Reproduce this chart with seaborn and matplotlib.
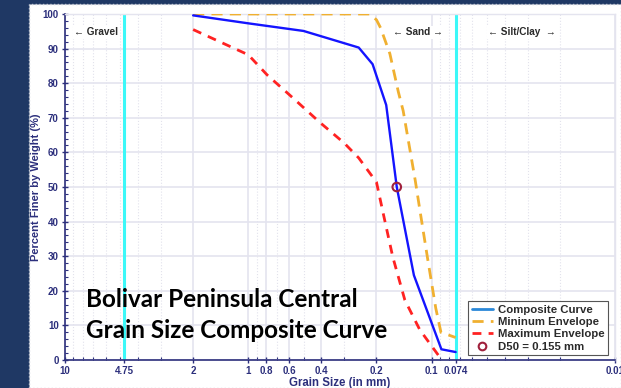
import numpy as np
import pandas as pd
import matplotlib
matplotlib.use("Agg")
import matplotlib.pyplot as plt
import seaborn as sns
from matplotlib.lines import Line2D
from matplotlib.patches import Rectangle
from matplotlib.ticker import FixedLocator, NullFormatter, FixedFormatter

# ---------------- data ----------------
composite_size = [2, 1, 0.5, 0.25, 0.21, 0.177, 0.155, 0.125, 0.0885, 0.074]
composite_pct = [99.6, 97.3, 95.1, 90.3, 85.5, 73.7, 50, 24.5, 3.1, 2.3]

min_size = [2, 0.217, 0.2, 0.19, 0.169, 0.152, 0.143, 0.123, 0.116, 0.105, 0.095, 0.089, 0.074]
min_pct = [100, 100, 98.3, 96, 88.5, 77.5, 72, 52, 43.4, 29, 15, 8, 6.5]

max_size = [2, 1, 0.79, 0.57, 0.41, 0.3, 0.25, 0.2, 0.184, 0.163, 0.14, 0.116, 0.088]
max_pct = [95.5, 88.2, 82.4, 75.7, 68.8, 62.7, 58.4, 51.4, 42.5, 29.8, 17.3, 8.7, 0]

d50_size = [0.155]
d50_pct = [50]

boundary_sizes = [4.75, 0.074]

xtick_values = [10, 4.75, 2, 1, 0.8, 0.6, 0.4, 0.2, 0.1, 0.074, 0.01]
xtick_labels = ["10", "4.75", "2", "1", "0.8", "0.6", "0.4", "0.2", "0.1", "0.074", "0.01"]
xminor_values = [9, 8, 7, 6, 5, 4, 3, 0.9, 0.7, 0.5, 0.3,
                 0.09, 0.08, 0.07, 0.06, 0.05, 0.04, 0.03, 0.02]

zone_names = ["\u2190 Gravel", "\u2190 Sand \u2192", "\u2190 Silt/Clay  \u2192"]
zone_x = [8.9, 0.1625, 0.0492]
zone_y = [94.7, 94.7, 94.7]

legend_labels = ["Composite Curve", "Mininum Envelope", "Maximum Envelope", "D50 = 0.155 mm"]
title_line1 = "Bolivar Peninsula Central"
title_line2 = "Grain Size Composite Curve"

# ---------------- style ----------------
sns.set_theme(style="white")
plt.rcParams["font.family"] = ["Liberation Sans", "DejaVu Sans"]

navy = "#2c2f7c"
bg = "#1f3864"
blue = "#1414ff"
orange = "#f0b030"
red = "#ff2222"
cyan = "#3cf8f8"
circ = "#a0203c"

W, H = 621, 388
fig = plt.figure(figsize=(W / 100, H / 100), dpi=100)
fig.patch.set_facecolor(bg)
# white panel
panel = Rectangle((29 / W, 0), 1 - 29 / W, 1 - 4 / H, transform=fig.transFigure,
                  facecolor="white", edgecolor="#c9cdd8", linestyle=":", linewidth=1.0,
                  zorder=-5)
fig.patches.append(panel)

ax = fig.add_axes([65 / W, 1 - 360 / H, 550 / W, 346 / H])
ax.set_zorder(2)
ax.set_facecolor("white")
ax.set_xscale("log")
ax.set_xlim(10, 0.01)
ax.set_ylim(0, 100)

# grid
ax.xaxis.set_major_locator(FixedLocator(xtick_values))
ax.xaxis.set_major_formatter(FixedFormatter(xtick_labels))
ax.xaxis.set_minor_locator(FixedLocator(xminor_values))
ax.xaxis.set_minor_formatter(NullFormatter())
ax.yaxis.set_major_locator(FixedLocator(list(range(0, 101, 10))))
ax.yaxis.set_minor_locator(FixedLocator(list(range(0, 101, 2))))
ax.grid(which="major", axis="both", color="#e4e4ef", linewidth=1.2, zorder=0)
ax.grid(which="minor", axis="x", color="#e2e2ec", linewidth=0.8, linestyle=":", zorder=0)
ax.set_axisbelow(True)

# boundaries
for b in boundary_sizes:
    ax.axvline(b, color=cyan, linewidth=2.2, zorder=2)

# curves
df_c = pd.DataFrame({"size": composite_size, "pct": composite_pct})
df_min = pd.DataFrame({"size": min_size, "pct": min_pct})
df_max = pd.DataFrame({"size": max_size, "pct": max_pct})

sns.lineplot(data=df_max, x="size", y="pct", sort=False, ax=ax, color=red,
             linewidth=2.0, zorder=3)
l_max = ax.lines[-1]
l_max.set_dashes((3.2, 2.6))
sns.lineplot(data=df_min, x="size", y="pct", sort=False, ax=ax, color=orange,
             linewidth=2.0, zorder=3)
l_min = ax.lines[-1]
l_min.set_dashes((4.0, 2.6))
sns.lineplot(data=df_c, x="size", y="pct", sort=False, ax=ax, color=blue,
             linewidth=1.7, zorder=4)

sns.scatterplot(x=d50_size, y=d50_pct, ax=ax, s=38, facecolors="none",
                edgecolor=circ, linewidth=1.5, zorder=5)

ax.set_xlim(10, 0.01)
ax.set_ylim(0, 100)

# zone labels
for name, zx, zy in zip(zone_names, zone_x, zone_y):
    ax.text(zx, zy, name, ha="left", va="center", fontsize=7.2, fontweight="bold",
            color="#2a2a2a", zorder=6,
            bbox=dict(facecolor="white", edgecolor="none", pad=1.0))

# title text (two lines, baselines placed separately)
ax.text(21 / 550, (360 - 307) / 346, title_line1, transform=ax.transAxes, ha="left",
        va="baseline", fontsize=17.5, fontweight="bold", family=["Lato", "DejaVu Sans"],
        color="black", zorder=6)
ax.text(21 / 550, (360 - 338) / 346, title_line2, transform=ax.transAxes, ha="left",
        va="baseline", fontsize=17.5, fontweight="bold", family=["Lato", "DejaVu Sans"],
        color="black", zorder=6)

# axes styling
for s in ["left", "bottom"]:
    ax.spines[s].set_color(navy)
    ax.spines[s].set_linewidth(1.2)
for s in ["top", "right"]:
    ax.spines[s].set_color("#e4e4ef")
    ax.spines[s].set_linewidth(1.0)

ax.tick_params(axis="y", which="major", direction="inout", length=5, width=1, color=navy,
               labelsize=7, labelcolor=navy, pad=2, left=True)
ax.tick_params(axis="y", which="minor", direction="in", length=2.5, width=0.8, color=navy,
               left=True)
ax.tick_params(axis="x", which="major", direction="inout", length=4, width=1, color=navy,
               labelsize=7, labelcolor=navy, pad=2, bottom=True)
ax.tick_params(axis="x", which="minor", direction="in", length=2.5, width=0.8, color=navy,
               bottom=True)
for lab in ax.get_xticklabels() + ax.get_yticklabels():
    lab.set_fontweight("bold")

ax.set_xlabel("Grain Size (in mm)", fontsize=8.3, fontweight="bold", color=navy, labelpad=1)
ax.set_ylabel("Percent Finer by Weight (%)", fontsize=8.0, fontweight="bold", color=navy)
ax.yaxis.set_label_coords((41.5 - 65) / 550, 0.5)

# legend
handles = [
    Line2D([], [], color="#2a88d8", linewidth=2.0),
    Line2D([], [], color=orange, linewidth=2.0, dashes=(4.0, 2.6)),
    Line2D([], [], color=red, linewidth=2.0, dashes=(3.2, 2.6)),
    Line2D([], [], color=circ, marker="o", linestyle="none", markersize=5.5,
           markerfacecolor="none", markeredgewidth=1.5),
]
leg = ax.legend(handles, legend_labels, loc="lower right", bbox_to_anchor=(0.987, 0.0145),
                borderaxespad=0, frameon=True, fancybox=False,
                framealpha=1, edgecolor="#555555", handlelength=1.9, handletextpad=0.4,
                labelspacing=0.2, borderpad=0.3,
                prop={"weight": "bold", "size": 8.2})
leg.get_frame().set_linewidth(0.8)
for t in leg.get_texts():
    t.set_color("#2a2a2a")

fig.savefig("out.png", dpi=100, facecolor=fig.get_facecolor())
